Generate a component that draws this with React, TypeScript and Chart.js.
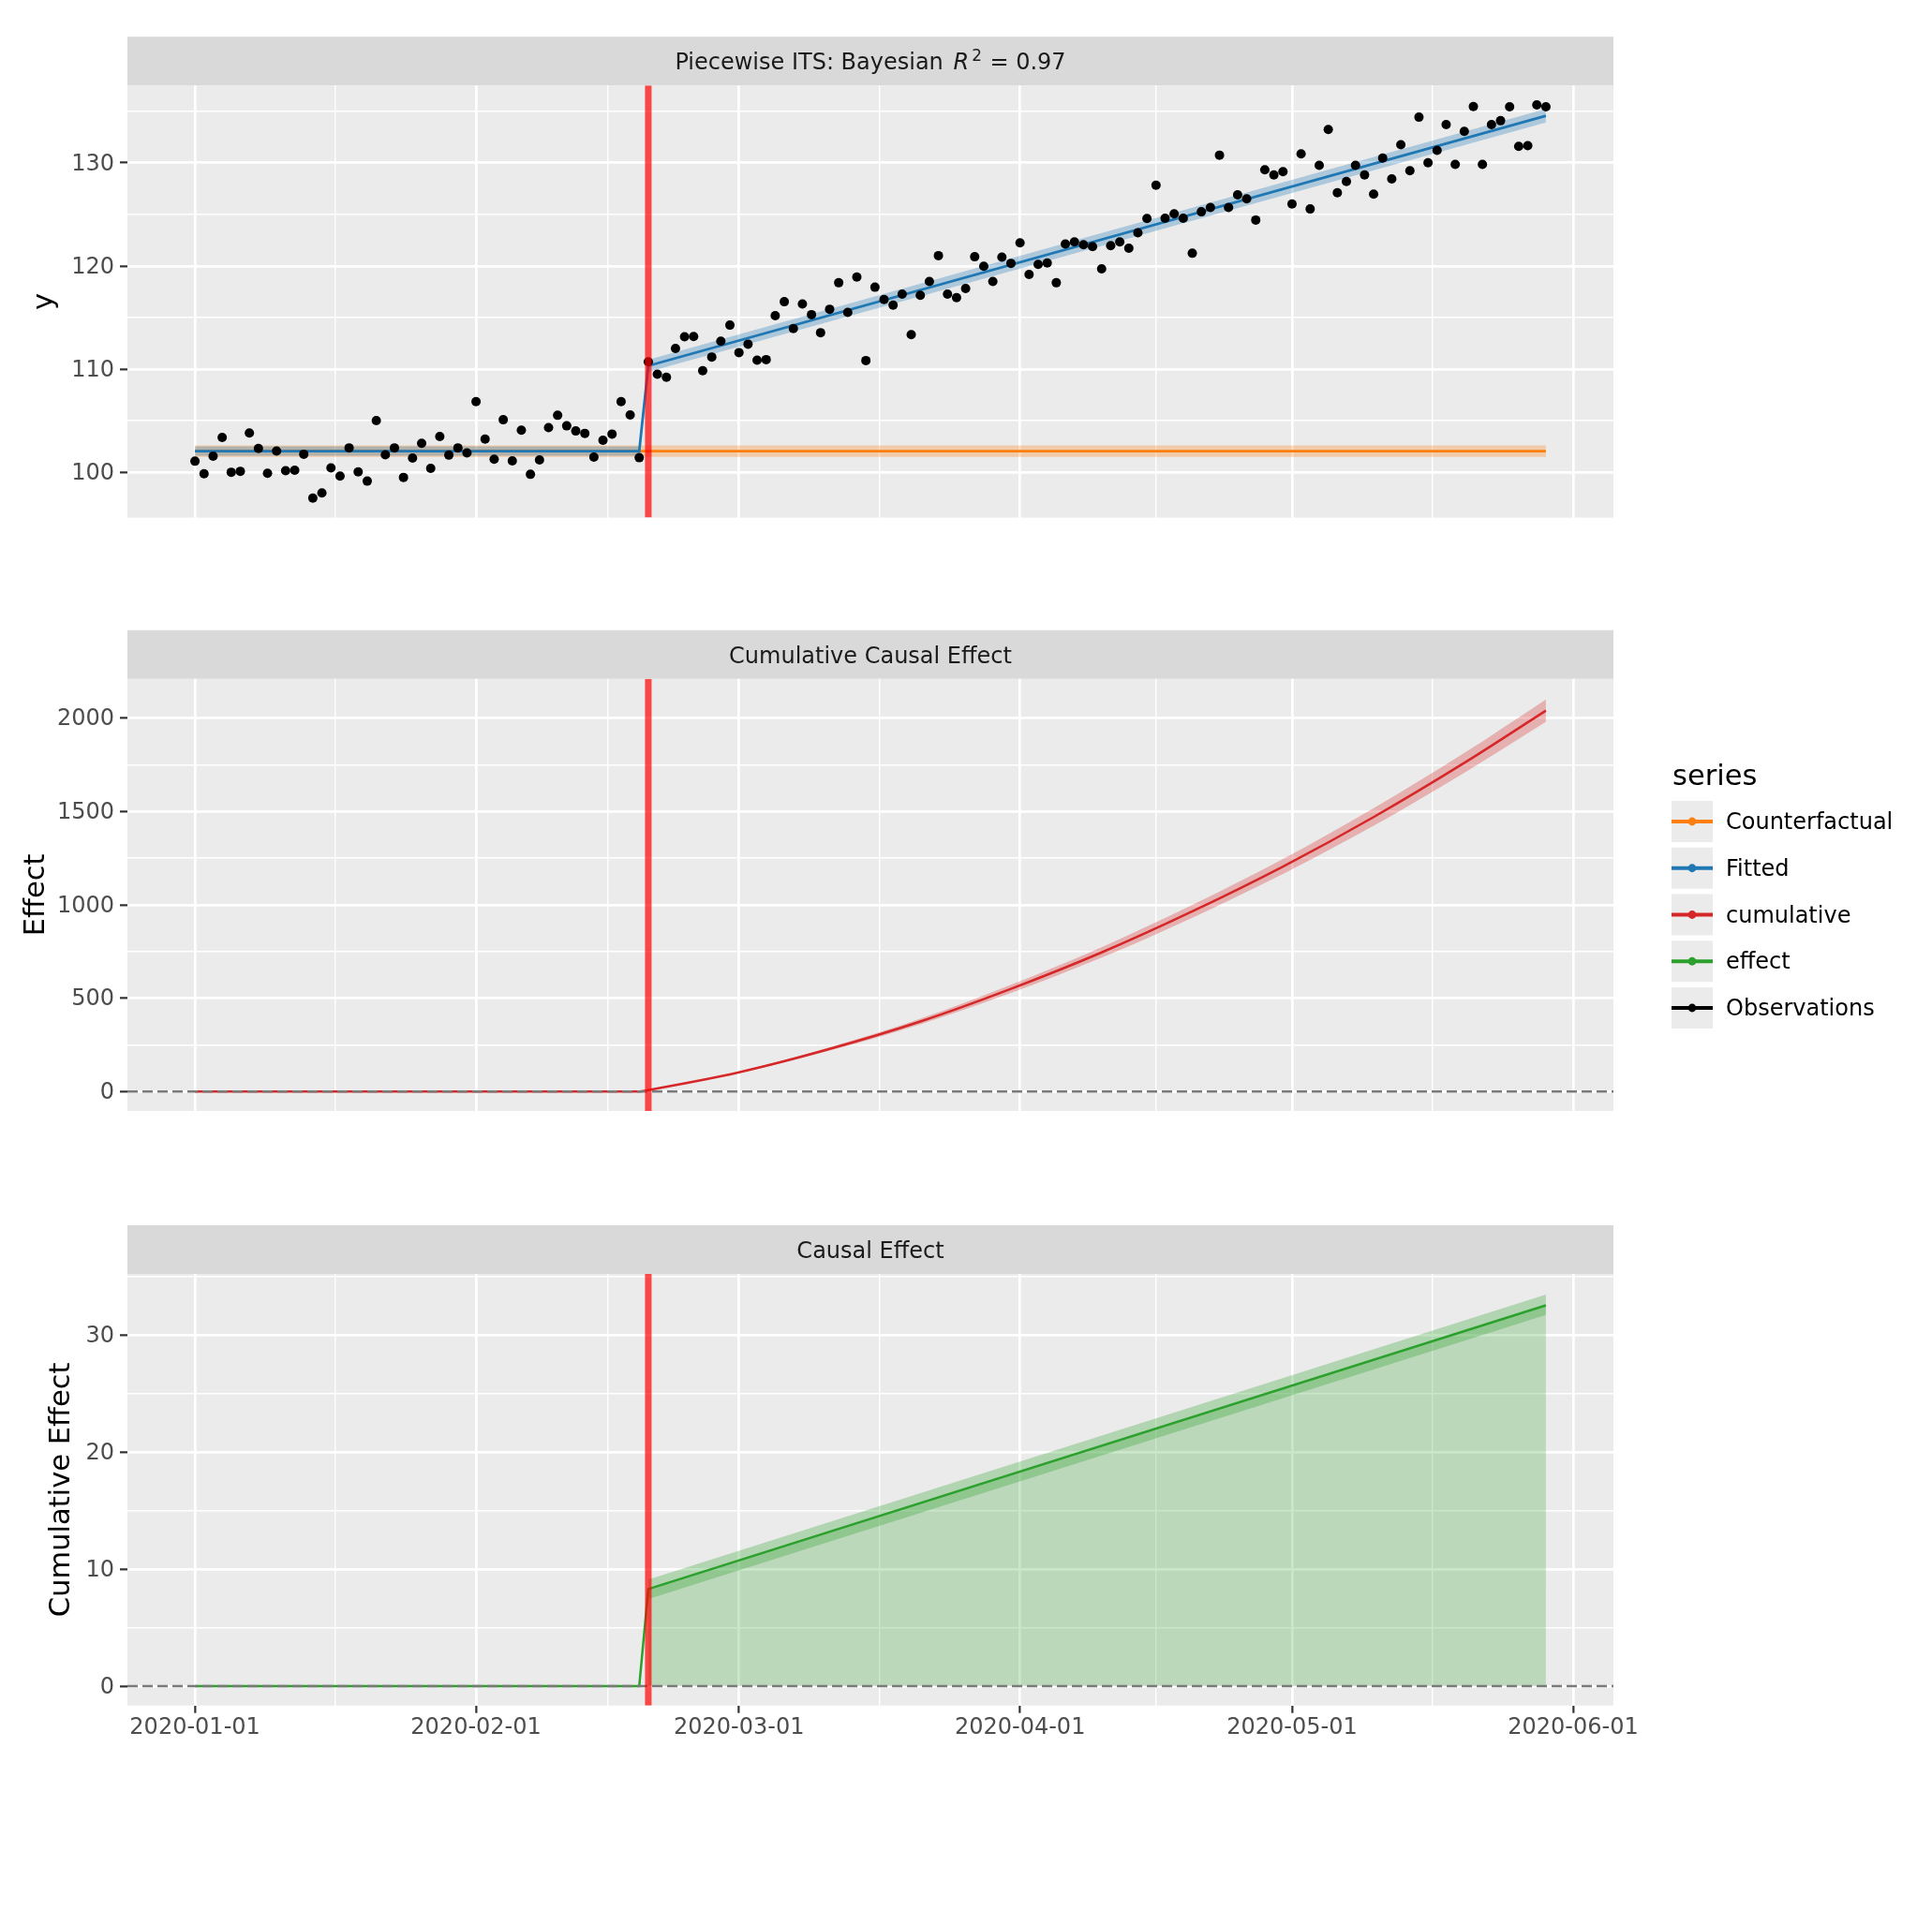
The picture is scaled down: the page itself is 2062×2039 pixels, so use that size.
import React, { useEffect, useRef } from 'react';
import { Chart, registerables } from 'chart.js';
Chart.register(...registerables);

// ---------------- data ----------------
const START_DATE = '2020-01-01';
const INTERVENTION_DAY = 50;

const xTickLabels = ['2020-01-01', '2020-02-01', '2020-03-01', '2020-04-01', '2020-05-01', '2020-06-01'];

// daily observations, 2020-01-01 .. 2020-05-29
const observations = [
  101.07, 99.85, 101.56, 103.37, 100.0, 100.09, 103.8, 102.3, 99.9, 102.06,
  100.15, 100.2, 101.75, 97.5, 98.0, 100.43, 99.63, 102.36, 100.03, 99.14,
  105.0, 101.69, 102.36, 99.5, 101.38, 102.8, 100.37, 103.47, 101.66, 102.36,
  101.87, 106.84, 103.22, 101.26, 105.09, 101.1, 104.08, 99.8, 101.2, 104.33,
  105.52, 104.5, 104.0, 103.77, 101.47, 103.1, 103.7, 106.84, 105.55, 101.41,
  110.7, 109.5, 109.2, 112.0, 113.13, 113.16, 109.85, 111.17, 112.7, 114.26,
  111.6, 112.42, 110.86, 110.92, 115.18, 116.53, 113.93, 116.32, 115.28, 113.53,
  115.8, 118.37, 115.49, 118.93, 110.83, 117.94, 116.75, 116.2, 117.27, 113.34,
  117.15, 118.5, 121.0, 117.27, 116.93, 117.82, 120.89, 119.97, 118.5, 120.86,
  120.25, 122.24, 119.17, 120.15, 120.28, 118.37, 122.12, 122.33, 122.06, 121.87,
  119.72, 121.96, 122.33, 121.72, 123.22, 124.6, 127.82, 124.63, 125.06, 124.63,
  121.23, 125.25, 125.67, 130.74, 125.67, 126.9, 126.5, 124.45, 129.33, 128.83,
  129.14, 126.0, 130.86, 125.52, 129.75, 133.22, 127.09, 128.19, 129.75, 128.83,
  126.96, 130.46, 128.44, 131.75, 129.23, 134.42, 130.0, 131.2, 133.71, 129.85,
  133.04, 135.46, 129.85, 133.71, 134.08, 135.43, 131.6, 131.66, 135.61, 135.43,
];

const fittedDays = [0, 49, 50, 149];
const fittedMean = [102.05, 102.05, 110.32, 134.56];
const fittedLower = [101.6, 101.6, 109.72, 133.9];
const fittedUpper = [102.5, 102.5, 110.92, 135.22];

const counterfactualDays = [0, 149];
const counterfactualMean = [102.05, 102.05];
const counterfactualLower = [101.5, 101.5];
const counterfactualUpper = [102.6, 102.6];

const cumulativeDays = [0, 49, 50, 60, 70, 80, 90, 100, 110, 120, 130, 140, 149];
const cumulativeMean = [0, 0, 8, 103, 228, 375, 550, 745, 965, 1205, 1470, 1760, 2040];
const cumulativeLower = [0, 0, 7, 99, 219, 360, 528, 717, 931, 1165, 1423, 1707, 1980];
const cumulativeUpper = [0, 0, 9, 107, 237, 390, 572, 773, 999, 1245, 1517, 1813, 2100];

const effectDays = [0, 49, 50, 149];
const effectMean = [0, 0, 8.29, 32.52];
const effectBandDays = [50, 149];
const effectLower = [7.45, 31.7];
const effectUpper = [9.1, 33.45];

const legendLabels = ['Counterfactual', 'Fitted', 'cumulative', 'effect', 'Observations'];
const legendColors = ['#ff7f0e', '#1f77b4', '#d62728', '#2ca02c', '#000000'];

// ---------------- styling ----------------
const FONT = 'DejaVu Sans';
const PANEL_BG = '#ebebeb';
const STRIP_BG = '#d9d9d9';
const STRIP_H = 52;
const AXIS_W = 136;
const RIGHT_PAD = 340;
const X_MIN = -7.45;
const X_MAX = 156.45;
const VLINE_COLOR = 'rgba(255,0,0,0.7)';

const DAY_MS = 86400000;
const xMajorDays = xTickLabels.map((l) => Math.round((Date.parse(l) - Date.parse(START_DATE)) / DAY_MS));
const xMinorDays = xMajorDays.slice(0, -1).map((d, i) => (d + xMajorDays[i + 1]) / 2);
const dayIndex = observations.map((_, i) => i);

type Seg = { text: string; italic?: boolean; sup?: boolean; gapBefore?: number };

const isIn = (arr: number[], v: number) => v !== undefined && arr.some((a) => Math.abs(a - v) < 1e-6);
const pts = (xs: number[], ys: number[]) => xs.map((x, i) => ({ x, y: ys[i] }));

function lineDs(data: any[], color: string, width: number, order: number, extra: any = {}) {
  return {
    type: 'line', data, borderColor: color, borderWidth: width, pointRadius: 0,
    fill: false, order, tension: 0, ...extra,
  };
}
function bandDs(xs: number[], lower: number[], upper: number[], color: string, order: number, extra: any = {}) {
  return [
    { type: 'line', data: pts(xs, upper), borderColor: 'rgba(0,0,0,0)', borderWidth: 0, pointRadius: 0, fill: false, order, ...extra },
    { type: 'line', data: pts(xs, lower), borderColor: 'rgba(0,0,0,0)', borderWidth: 0, pointRadius: 0, fill: '-1', backgroundColor: color, order, ...extra },
  ];
}

function gridOpts(major: number[], drawTicks: boolean) {
  return {
    color: '#ffffff',
    lineWidth: (c: any) => (isIn(major, c.tick && c.tick.value) ? 2.7 : 1.4),
    drawTicks,
    tickLength: 8,
    tickWidth: 2.2,
    tickColor: (c: any) => (isIn(major, c.tick && c.tick.value) ? '#333333' : 'rgba(0,0,0,0)'),
  };
}

function makeDecorPlugin(segments: Seg[], legend: boolean, canvasTop: number) {
  return {
    id: 'panelDecor',
    beforeDraw(chart: any) {
      const { ctx, chartArea } = chart;
      const { left, top, right, bottom } = chartArea;
      ctx.save();
      ctx.fillStyle = PANEL_BG;
      ctx.fillRect(left, top, right - left, bottom - top);
      ctx.fillStyle = STRIP_BG;
      ctx.fillRect(left, top - STRIP_H, right - left, STRIP_H);
      const fontFor = (s: Seg) => `${s.italic ? 'italic ' : ''}${s.sup ? 16.8 : 24}px "${FONT}"`;
      let total = 0;
      const widths = segments.map((s) => {
        ctx.font = fontFor(s);
        const w = ctx.measureText(s.text).width + (s.gapBefore || 0);
        total += w;
        return w;
      });
      let x = (left + right) / 2 - total / 2;
      const baseY = top - STRIP_H / 2 + 9;
      ctx.fillStyle = '#1a1a1a';
      ctx.textAlign = 'left';
      ctx.textBaseline = 'alphabetic';
      segments.forEach((s, i) => {
        ctx.font = fontFor(s);
        ctx.fillText(s.text, x + (s.gapBefore || 0), baseY - (s.sup ? 9 : 0));
        x += widths[i];
      });
      ctx.restore();
    },
    afterDraw(chart: any) {
      if (!legend) return;
      const { ctx } = chart;
      ctx.save();
      ctx.fillStyle = '#000000';
      ctx.textAlign = 'left';
      ctx.textBaseline = 'alphabetic';
      ctx.font = `30.5px "${FONT}"`;
      ctx.fillText('series', 1785, 838.3 - canvasTop);
      const boxX = 1784;
      const size = 44;
      legendLabels.forEach((label, i) => {
        const by = 855 - canvasTop + i * 49.75;
        ctx.fillStyle = PANEL_BG;
        ctx.fillRect(boxX, by, size, size);
        const cy = by + size / 2;
        ctx.strokeStyle = legendColors[i];
        ctx.lineWidth = 4;
        ctx.beginPath();
        ctx.moveTo(boxX, cy);
        ctx.lineTo(boxX + size, cy);
        ctx.stroke();
        ctx.fillStyle = legendColors[i];
        ctx.beginPath();
        ctx.arc(boxX + size / 2, cy, 4.4, 0, Math.PI * 2);
        ctx.fill();
        ctx.fillStyle = '#000000';
        ctx.font = `24px "${FONT}"`;
        ctx.fillText(label, 1842, cy + 8);
      });
      ctx.restore();
    },
  };
}

type PanelCfg = {
  top: number; height: number; padTop: number; padBottom: number;
  yMin: number; yMax: number; yMajor: number[]; yMinor: number[];
  yTitle: string; yTitlePad: number; strip: Seg[]; showX: boolean;
  datasets: any[]; legend: boolean;
};

const TOP_Y = { min: 95.6, max: 137.5 };
const MID_Y = { min: -104, max: 2210 };
const BOT_Y = { min: -1.65, max: 35.2 };

const vline = (yMin: number, yMax: number) =>
  lineDs(pts([INTERVENTION_DAY, INTERVENTION_DAY], [yMin, yMax]), VLINE_COLOR, 7, 5, { clip: 0 });
const zeroLine = () =>
  lineDs(pts([X_MIN, X_MAX], [0, 0]), '#7a7a7a', 2.5, 6, { borderDash: [11, 5], clip: 0 });

const panels: PanelCfg[] = [
  {
    top: 0, height: 640, padTop: 91.2, padBottom: 640 - 552.6,
    yMin: TOP_Y.min, yMax: TOP_Y.max, yMajor: [100, 110, 120, 130], yMinor: [105, 115, 125, 135],
    yTitle: 'y', yTitlePad: 32.75,
    strip: [
      { text: 'Piecewise ITS: Bayesian ' },
      { text: 'R', italic: true, gapBefore: 3 },
      { text: '2', sup: true, gapBefore: 3 },
      { text: ' = 0.97', gapBefore: 1 },
    ],
    showX: false, legend: false,
    datasets: [
      ...bandDs(counterfactualDays, counterfactualLower, counterfactualUpper, 'rgba(255,127,14,0.3)', 10),
      ...bandDs(fittedDays, fittedLower, fittedUpper, 'rgba(31,119,180,0.3)', 9),
      lineDs(pts(counterfactualDays, counterfactualMean), '#ff7f0e', 2.8, 8),
      lineDs(pts(fittedDays, fittedMean), '#1f77b4', 2.8, 7),
      {
        type: 'line', data: pts(dayIndex, observations), showLine: false, pointRadius: 5,
        pointBackgroundColor: '#000000', pointBorderWidth: 0, borderColor: '#000000', order: 6,
      },
      vline(TOP_Y.min, TOP_Y.max),
    ],
  },
  {
    top: 640, height: 620, padTop: 724.7 - 640, padBottom: 640 + 620 - 1186,
    yMin: MID_Y.min, yMax: MID_Y.max, yMajor: [0, 500, 1000, 1500, 2000], yMinor: [250, 750, 1250, 1750],
    yTitle: 'Effect', yTitlePad: 23.5,
    strip: [{ text: 'Cumulative Causal Effect' }],
    showX: false, legend: true,
    datasets: [
      ...bandDs(cumulativeDays, cumulativeLower, cumulativeUpper, 'rgba(214,39,40,0.3)', 10, { cubicInterpolationMode: 'monotone' }),
      lineDs(pts(cumulativeDays, cumulativeMean), '#d62728', 2.5, 7, { cubicInterpolationMode: 'monotone' }),
      zeroLine(),
      vline(MID_Y.min, MID_Y.max),
    ],
  },
  {
    top: 1260, height: 779, padTop: 1360 - 1260, padBottom: 779 - (1820.7 - 1260) - 60,
    yMin: BOT_Y.min, yMax: BOT_Y.max, yMajor: [0, 10, 20, 30], yMinor: [5, 15, 25, 35],
    yTitle: 'Cumulative Effect', yTitlePad: 50.75,
    strip: [{ text: 'Causal Effect' }],
    showX: true, legend: false,
    datasets: [
      lineDs(pts(effectDays.slice(2), effectMean.slice(2)), 'rgba(0,0,0,0)', 0, 11, { fill: 'origin', backgroundColor: 'rgba(44,160,44,0.25)' }),
      ...bandDs(effectBandDays, effectLower, effectUpper, 'rgba(44,160,44,0.3)', 10),
      lineDs(pts(effectDays, effectMean), '#2ca02c', 2.5, 7),
      zeroLine(),
      vline(BOT_Y.min, BOT_Y.max),
    ],
  },
];

function Panel({ cfg }: { cfg: PanelCfg }) {
  const ref = useRef<HTMLCanvasElement>(null);
  useEffect(() => {
    const canvas = ref.current;
    if (!canvas) return;
    const chart = new Chart(canvas, {
      type: 'line',
      data: { datasets: cfg.datasets as any },
      plugins: [makeDecorPlugin(cfg.strip, cfg.legend, cfg.top) as any],
      options: {
        animation: false,
        responsive: false,
        maintainAspectRatio: false,
        devicePixelRatio: 1,
        events: [],
        layout: { padding: { left: 0, right: RIGHT_PAD, top: cfg.padTop, bottom: cfg.padBottom } },
        plugins: { legend: { display: false }, tooltip: { enabled: false }, title: { display: false } },
        scales: {
          x: {
            type: 'linear',
            min: X_MIN,
            max: X_MAX,
            afterBuildTicks: (s: any) => {
              s.ticks = [...xMajorDays, ...xMinorDays].sort((a, b) => a - b).map((v) => ({ value: v }));
            },
            ticks: {
              display: cfg.showX,
              autoSkip: false,
              maxRotation: 0,
              minRotation: 0,
              padding: 2,
              color: '#4d4d4d',
              font: { family: FONT, size: 24 },
              callback: (v: any) => {
                const i = xMajorDays.findIndex((d) => Math.abs(d - Number(v)) < 1e-6);
                return i >= 0 ? xTickLabels[i] : '';
              },
            },
            grid: gridOpts(xMajorDays, cfg.showX) as any,
            border: { display: false },
            afterFit: (s: any) => {
              s.height = cfg.showX ? 60 : 0;
            },
          },
          y: {
            type: 'linear',
            min: cfg.yMin,
            max: cfg.yMax,
            afterBuildTicks: (s: any) => {
              s.ticks = [...cfg.yMajor, ...cfg.yMinor].sort((a, b) => a - b).map((v) => ({ value: v }));
            },
            ticks: {
              autoSkip: false,
              padding: 6,
              labelOffset: 1.5,
              color: '#4d4d4d',
              font: { family: FONT, size: 24 },
              callback: (v: any) => (isIn(cfg.yMajor, Number(v)) ? String(v) : ''),
            },
            grid: gridOpts(cfg.yMajor, true) as any,
            border: { display: false },
            title: {
              display: true,
              text: cfg.yTitle,
              color: '#000000',
              font: { family: FONT, size: 30.5, lineHeight: 1 },
              padding: { top: cfg.yTitlePad, bottom: 0 },
            },
            afterFit: (s: any) => {
              s.width = AXIS_W;
            },
          },
        },
      } as any,
    });
    return () => chart.destroy();
  }, [cfg]);
  return (
    <canvas
      ref={ref}
      width={2062}
      height={cfg.height}
      style={{ position: 'absolute', left: 0, top: cfg.top, width: 2062, height: cfg.height }}
    />
  );
}

export default function App() {
  useEffect(() => {
    document.body.style.margin = '0';
  }, []);
  return (
    <div style={{ position: 'absolute', left: 0, top: 0, width: 2062, height: 2039, background: '#ffffff', overflow: 'hidden' }}>
      {panels.map((p, i) => (
        <Panel key={i} cfg={p} />
      ))}
    </div>
  );
}
